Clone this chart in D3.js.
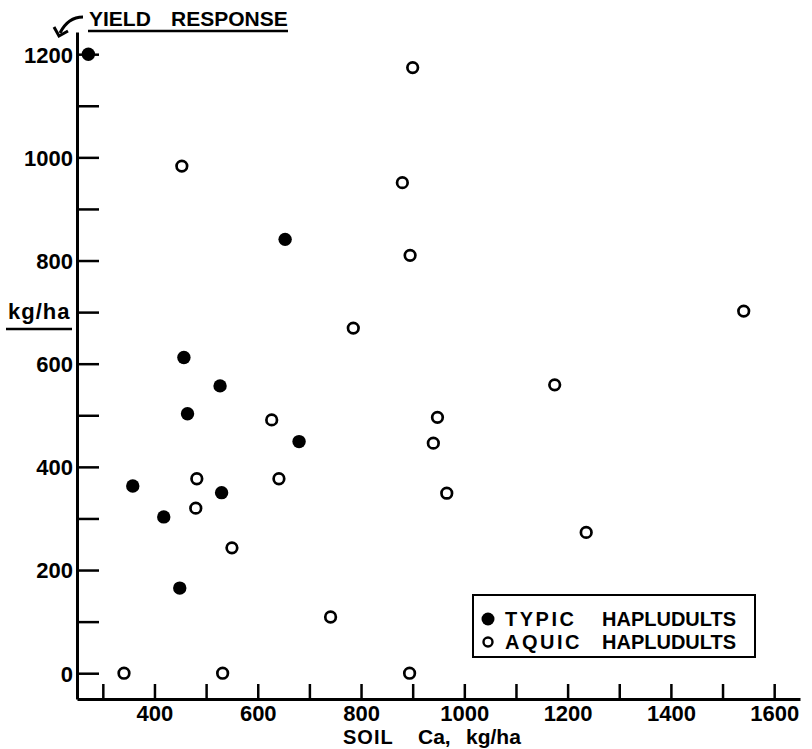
<!DOCTYPE html>
<html lang="en">
<head>
  <meta charset="UTF-8">
  <title>Yield response vs soil Ca</title>
  <script src="https://d3js.org/d3.v7.min.js"></script>
  <style>
    body { margin: 0; background: #fff; }
    text { font-family: "Liberation Sans", Arial, sans-serif; font-weight: bold; fill: #000; }
  </style>
</head>
<body>
  <div id="chart"></div>

  <script>
  // Typic Hapludults (filled dots)
  const typicCa    = [272, 653, 457, 527, 464, 680, 358, 530, 418, 449];
  const typicYield = [1200, 841, 612, 557, 503, 449, 363, 350, 303, 165];

  // Aquic Hapludults (open dots)
  const aquicCa    = [900, 453, 880, 895, 785, 1541, 1175, 627, 948, 940, 482, 641, 966, 480, 1236, 550, 741, 341, 532, 894];
  const aquicYield = [1174, 983, 951, 810, 669, 702, 559, 491, 496, 446, 377, 377, 349, 320, 273, 243, 109, 0, 0, 0];

  const xTicks = d3.range(300, 1601, 100);
  const yTicks = d3.range(0, 1201, 100);
  const legendLabels = [["TYPIC", "HAPLUDULTS"], ["AQUIC", "HAPLUDULTS"]];

  const width = 812, height = 749;

  const svg = d3.select("#chart").append("svg")
    .attr("width", width).attr("height", height);

  const x = d3.scaleLinear().domain([250, 1650]).range([77, 800]);
  const y = d3.scaleLinear().domain([-50, 1243]).range([699, 32]);

  // axes, ticks pointing inward
  const yAxis = svg.append("g")
    .attr("transform", `translate(${x(250)},0)`)
    .call(d3.axisLeft(y).tickValues(yTicks).tickSizeInner(-22).tickSizeOuter(0)
      .tickPadding(4).tickFormat(d => d % 200 === 0 ? d : ""));

  const xAxis = svg.append("g")
    .attr("transform", `translate(0,${y(-50)})`)
    .call(d3.axisBottom(x).tickValues(xTicks).tickSizeInner(-15).tickSizeOuter(0)
      .tickPadding(6).tickFormat(d => d % 200 === 0 ? d : ""));

  svg.selectAll(".domain").attr("stroke", "#000").attr("stroke-width", 3);
  svg.selectAll(".tick line").attr("stroke", "#000").attr("stroke-width", 2.5);
  svg.selectAll(".tick text").style("font-size", "22px");
  yAxis.selectAll(".tick text").attr("dy", "0.36em");

  // points
  svg.append("g").selectAll("circle")
    .data(aquicCa.map((c, i) => [c, aquicYield[i]]))
    .enter().append("circle")
    .attr("cx", d => x(d[0]))
    .attr("cy", d => y(d[1]))
    .attr("r", 5.3)
    .attr("fill", "#fff")
    .attr("stroke", "#000")
    .attr("stroke-width", 2.7);

  svg.append("g").selectAll("circle")
    .data(typicCa.map((c, i) => [c, typicYield[i]]))
    .enter().append("circle")
    .attr("cx", d => x(d[0]))
    .attr("cy", d => y(d[1]))
    .attr("r", 6.7)
    .attr("fill", "#000");

  // title with curved arrow
  svg.append("text")
    .attr("x", 89).attr("y", 26)
    .style("font-size", "21px")
    .text("YIELD");
  svg.append("text")
    .attr("x", 171).attr("y", 26)
    .style("font-size", "21px")
    .text("RESPONSE");
  svg.append("line")
    .attr("x1", 88).attr("x2", 288).attr("y1", 31).attr("y2", 31)
    .attr("stroke", "#000").attr("stroke-width", 2.5);
  svg.append("path")
    .attr("d", "M83,17 C73,17 65,23 60,33")
    .attr("fill", "none").attr("stroke", "#000").attr("stroke-width", 3);
  svg.append("path")
    .attr("d", "M54,27 L59,36 L68,31")
    .attr("fill", "none").attr("stroke", "#000").attr("stroke-width", 3);

  // y unit
  svg.append("text")
    .attr("x", 8).attr("y", 319)
    .style("font-size", "22px").style("letter-spacing", "1px")
    .text("kg/ha");
  svg.append("line")
    .attr("x1", 6).attr("x2", 72).attr("y1", 329).attr("y2", 329)
    .attr("stroke", "#000").attr("stroke-width", 2.5);

  // x title
  svg.append("text").attr("x", 343).attr("y", 744)
    .style("font-size", "20px").style("letter-spacing", "1px").text("SOIL");
  svg.append("text").attr("x", 418).attr("y", 744)
    .style("font-size", "21px").text("Ca,");
  svg.append("text").attr("x", 466).attr("y", 744)
    .style("font-size", "21px").text("kg/ha");

  // legend
  const lg = svg.append("g");
  lg.append("rect")
    .attr("x", 473).attr("y", 595).attr("width", 282).attr("height", 62)
    .attr("fill", "#fff").attr("stroke", "#000").attr("stroke-width", 2);
  legendLabels.forEach((lab, i) => {
    const cy = 619 + i * 23;
    if (i === 0) {
      lg.append("circle").attr("cx", 488).attr("cy", cy).attr("r", 6.5).attr("fill", "#000");
    } else {
      lg.append("circle").attr("cx", 488).attr("cy", cy).attr("r", 4.5)
        .attr("fill", "#fff").attr("stroke", "#000").attr("stroke-width", 2.4);
    }
    lg.append("text").attr("x", 505).attr("y", cy + 7)
      .style("font-size", "20px").style("letter-spacing", "2.5px").text(lab[0]);
    lg.append("text").attr("x", 602).attr("y", cy + 7)
      .style("font-size", "20px").text(lab[1]);
  });
  </script>
</body>
</html>
